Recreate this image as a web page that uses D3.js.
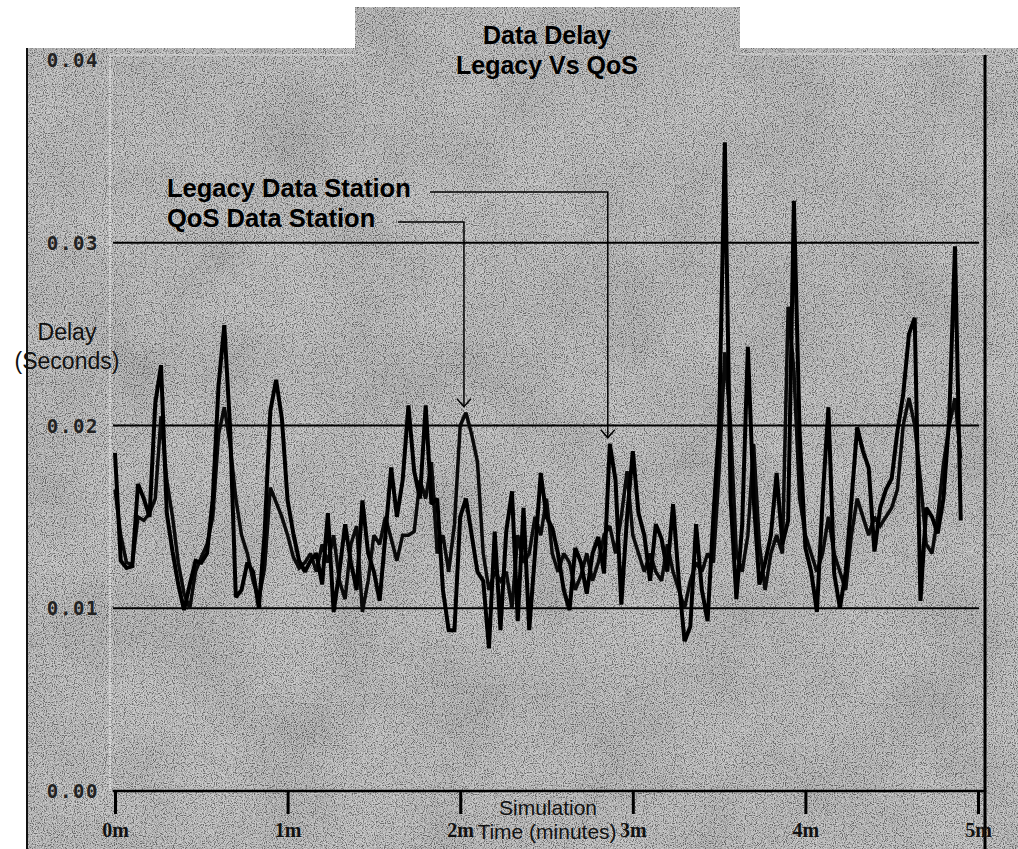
<!DOCTYPE html>
<html>
<head>
<meta charset="utf-8">
<script src="https://cdn.jsdelivr.net/npm/d3@7"></script>
<style>
  body { margin: 0; background: #fff; }
  svg { display: block; }
</style>
</head>
<body>
<svg id="chart" width="1018" height="849"></svg>
<script>
// sample instants in seconds (one sample every 2 s)
var times = d3.range(0, 296, 2);

var legacyDelay = [
  .0185,.0126,.0122,.0123,.0168,.0160,.0150,.0212,.0233,.0152,
  .0131,.0113,.0099,.0113,.0126,.0125,.0130,.0160,.0222,.0255,
  .0199,.0106,.0110,.0125,.0120,.0100,.0141,.0208,.0225,.0204,
  .0159,.0141,.0126,.0120,.0126,.0130,.0113,.0152,.0098,.0120,
  .0146,.0125,.0110,.0159,.0130,.0120,.0104,.0140,.0177,.0150,
  .0170,.0211,.0175,.0160,.0211,.0157,.0160,.0110,.0088,.0088,
  .0150,.0160,.0140,.0120,.0115,.0078,.0142,.0088,.0142,.0164,
  .0093,.0155,.0088,.0130,.0174,.0150,.0144,.0130,.0110,.0099,
  .0133,.0125,.0108,.0130,.0139,.0119,.0190,.0170,.0102,.0150,
  .0186,.0152,.0140,.0115,.0146,.0138,.0120,.0157,.0115,.0082,
  .0090,.0146,.0110,.0093,.0150,.0200,.0355,.0160,.0105,.0145,
  .0243,.0160,.0113,.0125,.0140,.0174,.0135,.0148,.0323,.0196,
  .0133,.0120,.0098,.0160,.0210,.0119,.0100,.0120,.0159,.0199,
  .0186,.0177,.0131,.0155,.0165,.0171,.0197,.0217,.0250,.0259,
  .0104,.0155,.0150,.0141,.0160,.0204,.0298,.0148
];

var qosDelay = [
  .0165,.0140,.0125,.0124,.0150,.0148,.0152,.0160,.0205,.0170,
  .0150,.0125,.0108,.0100,.0120,.0128,.0135,.0150,.0195,.0210,
  .0190,.0160,.0140,.0130,.0115,.0105,.0122,.0166,.0158,.0150,
  .0140,.0128,.0122,.0125,.0130,.0120,.0135,.0125,.0140,.0115,
  .0105,.0135,.0145,.0098,.0115,.0140,.0135,.0150,.0138,.0126,
  .0140,.0140,.0142,.0170,.0160,.0180,.0130,.0140,.0120,.0146,
  .0200,.0207,.0195,.0180,.0130,.0110,.0120,.0115,.0120,.0100,
  .0140,.0125,.0130,.0150,.0140,.0160,.0130,.0120,.0130,.0125,
  .0110,.0118,.0130,.0115,.0125,.0140,.0145,.0130,.0150,.0175,
  .0140,.0130,.0120,.0130,.0120,.0115,.0135,.0120,.0110,.0100,
  .0115,.0125,.0120,.0130,.0125,.0175,.0240,.0200,.0130,.0120,
  .0140,.0190,.0135,.0110,.0130,.0140,.0130,.0265,.0230,.0160,
  .0140,.0130,.0120,.0130,.0150,.0130,.0120,.0110,.0140,.0160,
  .0150,.0140,.0150,.0145,.0150,.0155,.0165,.0200,.0215,.0200,
  .0170,.0135,.0130,.0150,.0179,.0200,.0215,.0182
];

var yTicks = [0, 0.01, 0.02, 0.03, 0.04];
var yTickLabels = ["0.00", "0.01", "0.02", "0.03", "0.04"];
var xTicks = [0, 60, 120, 180, 240, 300];
var xTickLabels = ["0m", "1m", "2m", "3m", "4m", "5m"];
var seriesNames = ["Legacy Data Station", "QoS Data Station"];
// sample index each legend leader points at
var leaderIndex = [86, 61];

var svg = d3.select("#chart");
var sans = "'Liberation Sans', Arial, sans-serif";
var mono = "'DejaVu Sans Mono', monospace";
var serif = "'Liberation Serif', 'DejaVu Serif', serif";

var x = d3.scaleLinear().domain([0, 300]).range([115, 978]);
var y = d3.scaleLinear().domain([0, 0.04]).range([791, 60]);

// scanned gray backdrop with title tab
var bgPath = "M27,48 H355 V7 H740 V48 H1018 V849 H27 Z";
var defs = svg.append("defs");
defs.append("clipPath").attr("id", "bgclip").append("path").attr("d", bgPath);

var fNoise = defs.append("filter").attr("id", "noise")
    .attr("x", 0).attr("y", 0).attr("width", "100%").attr("height", "100%");
fNoise.append("feTurbulence").attr("type", "fractalNoise")
    .attr("baseFrequency", 0.9).attr("numOctaves", 2).attr("seed", 4);
fNoise.append("feColorMatrix").attr("type", "matrix")
    .attr("values", "1 0 0 0 0  1 0 0 0 0  1 0 0 0 0  0 0 0 0 1");
var ct = fNoise.append("feComponentTransfer");
["feFuncR", "feFuncG", "feFuncB"].forEach(function(f) {
  ct.append(f).attr("type", "linear").attr("slope", 3).attr("intercept", -1);
});

var fBlot = defs.append("filter").attr("id", "blot")
    .attr("x", 0).attr("y", 0).attr("width", "100%").attr("height", "100%");
fBlot.append("feTurbulence").attr("type", "fractalNoise")
    .attr("baseFrequency", 0.012).attr("numOctaves", 3).attr("seed", 9);
fBlot.append("feColorMatrix").attr("type", "matrix")
    .attr("values", "1 0 0 0 0  1 0 0 0 0  1 0 0 0 0  0 0 0 0 1");

svg.append("path").attr("d", bgPath).attr("fill", "#a9a9a9");
var bgNoise = svg.append("g").attr("clip-path", "url(#bgclip)");
bgNoise.append("rect").attr("width", 1018).attr("height", 849)
    .attr("filter", "url(#blot)").attr("opacity", 0.2);
bgNoise.append("rect").attr("width", 1018).attr("height", 849)
    .attr("filter", "url(#noise)").attr("opacity", 0.38);

// frame lines
svg.append("line").attr("x1", 27).attr("x2", 27).attr("y1", 48).attr("y2", 849)
    .attr("stroke", "#111").attr("stroke-width", 2);
svg.append("line").attr("x1", 985).attr("x2", 985).attr("y1", 55).attr("y2", 849)
    .attr("stroke", "#000").attr("stroke-width", 3);
svg.append("line").attr("x1", 110).attr("x2", 110).attr("y1", 55).attr("y2", 791)
    .attr("stroke", "#eee").attr("stroke-width", 1.2).attr("stroke-dasharray", "2,1");
svg.append("line").attr("x1", 110).attr("x2", 355).attr("y1", 55).attr("y2", 55)
    .attr("stroke", "#ddd").attr("stroke-width", 1.2);
svg.append("line").attr("x1", 740).attr("x2", 985).attr("y1", 54).attr("y2", 54)
    .attr("stroke", "#ddd").attr("stroke-width", 1.2);

// horizontal grid lines
svg.append("g").selectAll("line")
    .data(yTicks.filter(function(d) { return d > 0 && d < 0.04; }))
    .enter().append("line")
    .attr("x1", 113).attr("x2", 979)
    .attr("y1", function(d) { return y(d); })
    .attr("y2", function(d) { return y(d); })
    .attr("stroke", "#000").attr("stroke-width", 2);

// y tick labels
svg.append("g").selectAll("text")
    .data(yTicks)
    .enter().append("text")
    .attr("x", 99)
    .attr("y", function(d) { return y(d) + 7; })
    .attr("text-anchor", "end")
    .attr("font-family", mono).attr("font-weight", "bold")
    .attr("font-size", 19).attr("letter-spacing", 1.6)
    .attr("fill", "#222")
    .text(function(d, i) { return yTickLabels[i]; });

// x axis
var axisX = svg.append("g").attr("transform", "translate(0,791)")
    .call(d3.axisBottom(x).tickValues(xTicks).tickSize(23)
      .tickFormat(function(d, i) { return xTickLabels[i]; }));
axisX.select(".domain").attr("d", "M113,0H985").attr("stroke", "#000").attr("stroke-width", 2.5);
axisX.selectAll(".tick line").attr("stroke", "#000").attr("stroke-width", 3);
axisX.selectAll(".tick text")
    .attr("y", 46).attr("dy", 0)
    .attr("font-family", serif).attr("font-weight", "bold")
    .attr("font-size", 20).attr("fill", "#111");

svg.append("text").attr("x", 548).attr("y", 815)
    .attr("text-anchor", "middle").attr("font-family", sans)
    .attr("font-size", 21).attr("fill", "#111").text("Simulation");
svg.append("text").attr("x", 547).attr("y", 839)
    .attr("text-anchor", "middle").attr("font-family", sans)
    .attr("font-size", 21).attr("fill", "#111").text("Time (minutes)");

// y axis title
svg.append("text").attr("x", 67).attr("y", 340)
    .attr("text-anchor", "middle").attr("font-family", sans)
    .attr("font-size", 23).attr("fill", "#111").text("Delay");
svg.append("text").attr("x", 67).attr("y", 369)
    .attr("text-anchor", "middle").attr("font-family", sans)
    .attr("font-size", 23).attr("fill", "#111").text("(Seconds)");

// chart title
svg.append("text").attr("x", 547).attr("y", 44)
    .attr("text-anchor", "middle").attr("font-family", sans).attr("font-weight", "bold")
    .attr("font-size", 25).attr("fill", "#000").text("Data Delay");
svg.append("text").attr("x", 547).attr("y", 74)
    .attr("text-anchor", "middle").attr("font-family", sans).attr("font-weight", "bold")
    .attr("font-size", 25).attr("fill", "#000").text("Legacy Vs QoS");

// series
var line = d3.line()
    .x(function(d, i) { return x(times[i]); })
    .y(function(d) { return y(d); });

svg.append("path").datum(qosDelay)
    .attr("d", line).attr("fill", "none")
    .attr("stroke", "#0a0a0a").attr("stroke-width", 3.5)
    .attr("stroke-linejoin", "miter").attr("stroke-miterlimit", 2);
svg.append("path").datum(legacyDelay)
    .attr("d", line).attr("fill", "none")
    .attr("stroke", "#000").attr("stroke-width", 4)
    .attr("stroke-linejoin", "miter").attr("stroke-miterlimit", 2);

// legend labels with leader lines
var legendY = [197, 227];
var leaderY = [192, 222];
var leaderStart = [430, 398];
var seriesData = [legacyDelay, qosDelay];

seriesNames.forEach(function(name, i) {
  svg.append("text").attr("x", 167).attr("y", legendY[i])
      .attr("font-family", sans).attr("font-weight", "bold")
      .attr("font-size", 25.5).attr("fill", "#000").text(name);

  var tx = x(times[leaderIndex[i]]) - 2;
  var ty = y(seriesData[i][leaderIndex[i]]) - 6;
  svg.append("path")
      .attr("d", "M" + leaderStart[i] + "," + leaderY[i] + "H" + tx + "V" + ty)
      .attr("fill", "none").attr("stroke", "#000").attr("stroke-width", 1.5);
  svg.append("path")
      .attr("d", "M" + (tx - 7) + "," + (ty - 8) + "L" + tx + "," + ty + "L" + (tx + 7) + "," + (ty - 8))
      .attr("fill", "none").attr("stroke", "#000").attr("stroke-width", 1.5);
});
</script>
</body>
</html>
